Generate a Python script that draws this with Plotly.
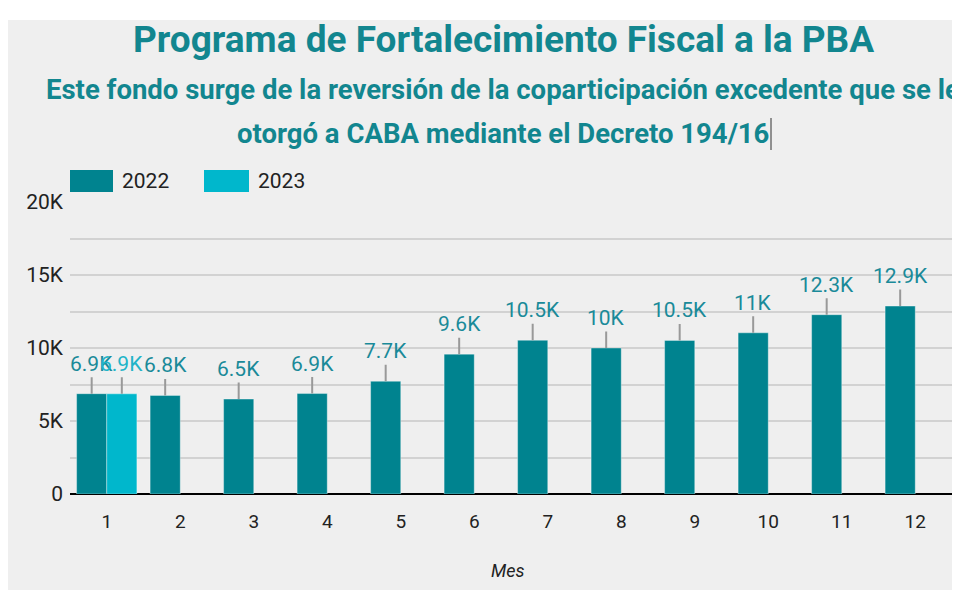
import plotly.graph_objects as go

# Data
meses = [1, 2, 3, 4, 5, 6, 7, 8, 9, 10, 11, 12]
valores_2022 = [6870, 6750, 6500, 6880, 7720, 9580, 10530, 10000, 10520, 11040, 12280, 12870]
meses_2023 = [1]
valores_2023 = [6860]
y_ticks = [0, 5000, 10000, 15000, 20000]
y_ticktext = ["0", "5K", "10K", "15K", "20K"]

C2022 = "#00838f"
C2023 = "#00b7cc"
TEAL = "#12868f"
FONT = "Roboto"
BARGAP = 0.18


def fmt_k(v):
    s = f"{v / 1000:.1f}"
    if s.endswith(".0"):
        s = s[:-2]
    return s + "K"


fig = go.Figure()

fig.add_trace(go.Bar(x=meses, y=valores_2022, name="2022",
                     marker=dict(color=C2022,
                                 line=dict(color="rgba(255,255,255,0.35)", width=1)),
                     hoverinfo="skip"))
fig.add_trace(go.Bar(x=meses_2023, y=valores_2023, name="2023",
                     marker=dict(color=C2023,
                                 line=dict(color="rgba(255,255,255,0.35)", width=1)),
                     hoverinfo="skip"))

# Data labels with leader lines
off = (1 - BARGAP) / 4
annotations = []
for xs, ys, sign, col in [(meses, valores_2022, -1, "#1a8a99"),
                          (meses_2023, valores_2023, 1, "#22b4c8")]:
    for m, v in zip(xs, ys):
        annotations.append(dict(x=m + sign * off, y=v, xref="x", yref="y",
                                text=fmt_k(v), showarrow=True, arrowhead=0,
                                arrowwidth=2, arrowcolor="#999999",
                                ax=0, ay=-30, standoff=0,
                                font=dict(family=FONT, size=21, color=col)))

# Titles
annotations += [
    dict(text="<b>Programa de Fortalecimiento Fiscal a la PBA</b>", x=0.491, y=1.555,
         xref="paper", yref="paper", showarrow=False, xanchor="center", yanchor="middle",
         font=dict(family=FONT, size=37, color=TEAL)),
    dict(text="<b>Este fondo surge de la reversión de la coparticipación excedente que se le</b>",
         x=0.491, y=1.3836, xref="paper", yref="paper", showarrow=False,
         xanchor="center", yanchor="middle",
         font=dict(family=FONT, size=27.5, color=TEAL)),
    dict(text="<b>otorgó a CABA mediante el Decreto 194/16</b>",
         x=0.491, y=1.236, xref="paper", yref="paper", showarrow=False,
         xanchor="center", yanchor="middle",
         font=dict(family=FONT, size=27.5, color=TEAL)),
    dict(text="Mes", x=0.4966, y=-0.2603, xref="paper", yref="paper", showarrow=False,
         xanchor="center", yanchor="middle",
         font=dict(family=FONT, size=18, color="#222222", style="italic")),
    dict(text="2022", x=0.0567, y=1.072, xref="paper", yref="paper", showarrow=False,
         xanchor="left", yanchor="middle", font=dict(family=FONT, size=21, color="#222222")),
    dict(text="2023", x=0.2109, y=1.072, xref="paper", yref="paper", showarrow=False,
         xanchor="left", yanchor="middle", font=dict(family=FONT, size=21, color="#222222")),
]


# page-pixel -> paper helpers (plot area spans x 70..952, y 202..494 on the page)
def px_x(p):
    return (p - 70) / 882


def px_y(p):
    return (494 - p) / 292


shapes = [
    # grey card
    dict(type="rect", xref="paper", yref="paper", layer="below",
         x0=px_x(8), x1=px_x(958), y0=px_y(600), y1=px_y(20),
         fillcolor="#efefef", line=dict(width=0)),
    # legend swatches
    dict(type="rect", xref="paper", yref="paper",
         x0=px_x(70), x1=px_x(113), y0=px_y(192), y1=px_y(170),
         fillcolor=C2022, line=dict(width=0)),
    dict(type="rect", xref="paper", yref="paper",
         x0=px_x(204), x1=px_x(249), y0=px_y(192), y1=px_y(170),
         fillcolor=C2023, line=dict(width=0)),
    # text caret after subtitle
    dict(type="line", xref="paper", yref="paper",
         x0=px_x(771), x1=px_x(771), y0=px_y(150), y1=px_y(118),
         line=dict(color="#333333", width=1)),
]

fig.update_layout(width=952, height=582,
                  margin=dict(l=62, r=8, t=194, b=96),
                  paper_bgcolor="white",
                  plot_bgcolor="rgba(0,0,0,0)",
                  barmode="group",
                  bargap=BARGAP,
                  bargroupgap=0,
                  showlegend=False,
                  annotations=annotations,
                  shapes=shapes,
                  font=dict(family=FONT, color="#222222"),
                  xaxis=dict(range=[0.5, 12.5],
                             tickvals=meses,
                             ticktext=[str(m) for m in meses],
                             showgrid=False,
                             zeroline=False,
                             ticks="",
                             ticklabelstandoff=14,
                             tickfont=dict(family=FONT, size=19, color="#222222")),
                  yaxis=dict(range=[0, 20000],
                             tickvals=y_ticks,
                             ticktext=y_ticktext,
                             showgrid=True,
                             gridcolor="#d2d2d2",
                             gridwidth=2,
                             minor=dict(dtick=2500, showgrid=True,
                                        gridcolor="#d2d2d2", gridwidth=2),
                             zeroline=True,
                             zerolinecolor="black",
                             zerolinewidth=2,
                             ticks="",
                             ticklabelstandoff=6,
                             tickfont=dict(family=FONT, size=21, color="#222222")))

fig.write_html("out.html")
